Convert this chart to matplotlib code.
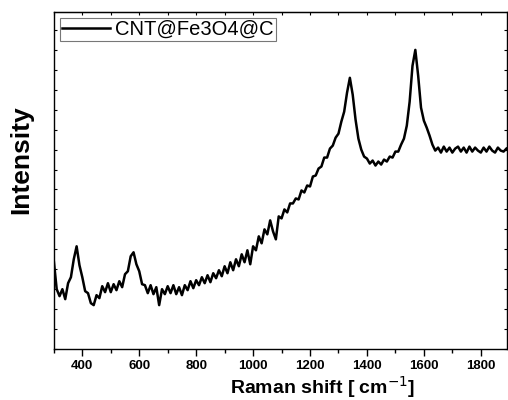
import matplotlib
matplotlib.use("Agg")
import matplotlib.pyplot as plt
import numpy as np
from matplotlib.ticker import MultipleLocator, NullFormatter

raman_shift = np.arange(300, 1900, 10)
intensity = [
    88, 60, 53, 60, 50, 66, 72, 90, 103, 84,
    72, 58, 56, 46, 44, 54, 51, 63, 57, 66,
    57, 65, 59, 68, 62, 75, 78, 93, 97, 85,
    78, 65, 64, 56, 64, 55, 62, 44, 60, 55,
    63, 56, 64, 55, 62, 54, 64, 59, 68, 61,
    69, 64, 72, 66, 74, 67, 76, 71, 79, 73,
    83, 76, 87, 79, 90, 83, 95, 87, 99, 85,
    103, 99, 113, 106, 120, 115, 129, 118, 110, 133,
    131, 140, 137, 146, 146, 151, 150, 159, 157, 164,
    163, 173, 174, 181, 183, 192, 192, 201, 204, 212,
    216, 228, 238, 257, 272, 255, 230, 211, 200, 193,
    191, 186, 189, 184, 188, 185, 190, 188, 193, 192,
    198, 198, 205, 211, 224, 248, 284, 300, 274, 242,
    229, 222, 214, 205, 199, 202, 197, 203, 198, 202,
    197, 201, 203, 198, 202, 197, 203, 198, 202, 199,
    197, 202, 198, 203, 199, 197, 202, 199, 198, 201,
]
series_label = "CNT@Fe3O4@C"
x_ticks = [400, 600, 800, 1000, 1200, 1400, 1600, 1800]

plt.rcParams["font.family"] = ["Liberation Sans", "DejaVu Sans"]

fig = plt.figure(figsize=(5.08, 4.0), dpi=100)
ax = fig.add_axes([0.106, 0.1275, 0.892, 0.8425])

ax.plot(raman_shift, intensity, color="black", linewidth=1.8,
        label=series_label)

ax.set_xlim(300, 1892)
ax.set_ylim(0, 338)
ax.set_xticks(x_ticks)
ax.xaxis.set_minor_locator(MultipleLocator(100))
ax.yaxis.set_major_locator(MultipleLocator(20))
ax.yaxis.set_major_formatter(NullFormatter())

ax.tick_params(axis="x", which="major", direction="out", length=5, width=1,
               labelsize=9.5, pad=3)
ax.tick_params(axis="x", which="minor", direction="out", length=3, width=1)
ax.tick_params(axis="y", which="major", direction="in", length=2, width=0.8,
               left=True, right=True)
for lab in ax.get_xticklabels():
    lab.set_fontweight("bold")

# Origin-style mirrored ticks along the top edge
top = ax.secondary_xaxis("top")
top.set_xticks(range(300, 1900, 100))
top.tick_params(direction="in", length=2, width=0.8, labeltop=False)

for spine in ax.spines.values():
    spine.set_linewidth(1.0)

# labels sit off-centre in the original
ax.set_xlabel("Raman shift [ cm$^{-1}$]", fontsize=14, fontweight="bold",
              labelpad=1)
ax.xaxis.set_label_coords(0.594, -0.075)
ax.set_ylabel("Intensity", fontsize=19, fontweight="bold")
ax.yaxis.set_label_coords(-0.045, 0.562)

leg = ax.legend(loc="upper left", fontsize=14.5, frameon=True, fancybox=False,
                borderpad=0.1, handlelength=2.4, handletextpad=0.25,
                borderaxespad=0.3)
leg.get_frame().set_edgecolor("#555555")
leg.get_frame().set_linewidth(0.8)

fig.savefig("out.png", dpi=100)
